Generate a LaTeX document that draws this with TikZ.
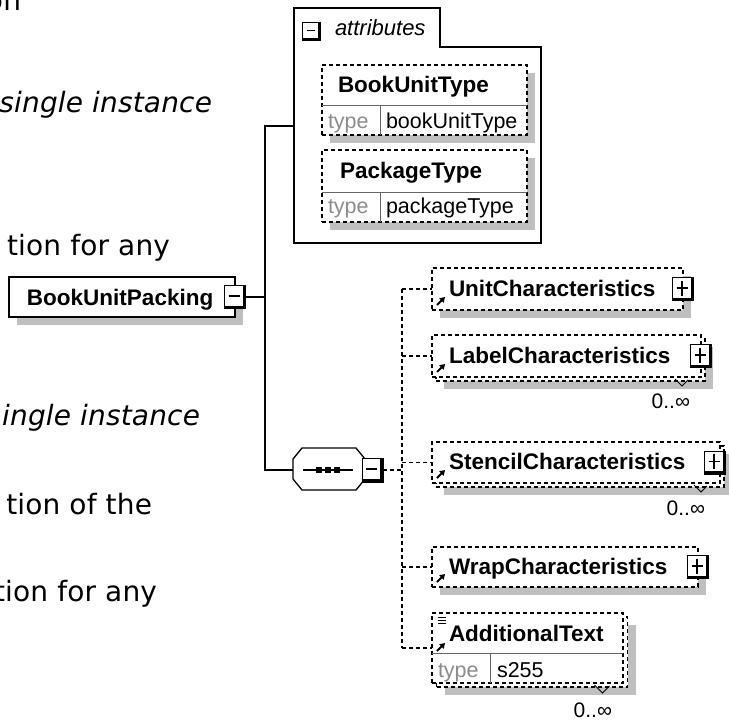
\documentclass[tikz,border=0pt]{standalone}
\usepackage{fontspec}
\setmainfont{DejaVu Sans}
\newfontfamily\prosefont{DejaVu Sans}[LetterSpace=0.6]
\newfontfamily\xsdfont{Liberation Sans}
\usetikzlibrary{shadows,arrows.meta}

\begin{document}
\begin{tikzpicture}[x=1pt,y=-1pt,
  every node/.style={inner sep=0pt,outer sep=0pt},
  prose/.style={font=\prosefont\fontsize{28}{34}\selectfont,anchor=base east},
  ename/.style={font=\xsdfont\bfseries\fontsize{22.5}{26}\selectfont,anchor=base west},
  aname/.style={font=\xsdfont\fontsize{21.5}{26}\selectfont,anchor=base west},
  tname/.style={aname,text=black!45},
  occurs/.style={font=\xsdfont\fontsize{21}{24}\selectfont,anchor=base east},
  wire/.style={line width=1.3pt},
  optwire/.style={wire,dash pattern=on 4pt off 3pt},
  cell/.style={line width=1pt,draw=black!60},
  shade/.style={drop shadow={shadow xshift=8pt,shadow yshift=-8pt,opacity=1,fill=black!25}},
  elbox/.style={draw,fill=white,line width=1.3pt,dash pattern=on 4pt off 3pt},
  refmark/.style={line width=1.8pt,-{Triangle[length=5pt,width=6pt]}},
  minusbtn/.style={draw,fill=white,line width=1pt,minimum width=21pt,minimum height=23pt,
    path picture={
      \draw[line width=2.8pt] ([xshift=-1.4pt]path picture bounding box.north east)
        -- ([xshift=-1.4pt,yshift=1.4pt]path picture bounding box.south east)
        -- ([yshift=1.4pt]path picture bounding box.south west);
      \draw[line width=1.2pt] ([xshift=4pt,yshift=1pt]path picture bounding box.west)
        -- ([xshift=-6pt,yshift=1pt]path picture bounding box.east);}},
  plusbtn/.style={draw,fill=white,line width=1pt,minimum width=21pt,minimum height=23pt,
    path picture={
      \draw[line width=2.8pt] ([xshift=-1.4pt]path picture bounding box.north east)
        -- ([xshift=-1.4pt,yshift=1.4pt]path picture bounding box.south east)
        -- ([yshift=1.4pt]path picture bounding box.south west);
      \draw[line width=1.2pt] ([xshift=4pt,yshift=1pt]path picture bounding box.west)
        -- ([xshift=-6pt,yshift=1pt]path picture bounding box.east);
      \draw[line width=1.2pt] ([xshift=-1pt,yshift=-3pt]path picture bounding box.north)
        -- ([xshift=-1pt,yshift=5pt]path picture bounding box.south);}}
]
\useasboundingbox (0,0) rectangle (729,720);
\clip (0,0) rectangle (729,720);

% prose of the page, cut off at the left edge
\node[prose,anchor=base west] (p0) at (-14,10) {on};
\node[prose] (p1) at (212,112) {\itshape single instance};
\node[prose] (p2) at (170,255) {tion for any};
\node[prose] (p3) at (200,425) {\itshape ingle instance};
\node[prose] (p4) at (152,514) {tion of the};
\node[prose] (p5) at (157,601) {tion for any};

% root element
\node[draw,fill=white,line width=1.5pt,shade,minimum width=226pt,minimum height=40pt] (bup) at (122,297) {};
\node[ename] (bupT) at (27,305) {BookUnitPacking};
\node[minusbtn] (bupBtn) at (bup.east) {};

% attributes
\draw[wire] (294,243) -- (294,8) -- (440,8) -- (440,47) -- (541,47) -- (541,243) -- cycle;
\coordinate (attrIn) at (294,126);
\node[minusbtn,minimum width=18pt,minimum height=18pt] (attrBtn) at (311.5,31.5) {};
\node[aname,font=\xsdfont\itshape\fontsize{22}{26}\selectfont] (attrT) at (335,35) {attributes};

\node[elbox,shade,minimum width=205pt,minimum height=70pt] (butBox) at (424.5,100) {};
\draw[cell] (322,105) -- (527,105) (380,105) -- (380,135);
\node[ename] (butT) at (338,92) {BookUnitType};
\node[tname] (butK) at (328,128) {type};
\node[aname] (butV) at (386,128) {bookUnitType};

\node[elbox,shade,minimum width=205pt,minimum height=72pt] (ptBox) at (424.5,186) {};
\draw[cell] (322,192) -- (527,192) (380,192) -- (380,222);
\node[ename] (ptT) at (340,178) {PackageType};
\node[tname] (ptK) at (328,213) {type};
\node[aname] (ptV) at (386,213) {packageType};

% sequence compositor
\node[minimum width=72pt,minimum height=42pt] (seq) at (329,469) {};
\fill[black!25,shift={(8,8)}] ([xshift=9pt]seq.north west) -- ([xshift=-9pt]seq.north east)
  -- ([yshift=-11pt]seq.north east) -- ([yshift=11pt]seq.south east) -- ([xshift=-9pt]seq.south east)
  -- ([xshift=9pt]seq.south west) -- ([yshift=11pt]seq.south west) -- ([yshift=-11pt]seq.north west) -- cycle;
\draw[wire,fill=white] ([xshift=9pt]seq.north west) -- ([xshift=-9pt]seq.north east)
  -- ([yshift=-11pt]seq.north east) -- ([yshift=11pt]seq.south east) -- ([xshift=-9pt]seq.south east)
  -- ([xshift=9pt]seq.south west) -- ([yshift=11pt]seq.south west) -- ([yshift=-11pt]seq.north west) -- cycle;
\draw[wire] (303,470) -- (353,470);
\foreach \sx in {319,328,337} \fill (\sx-2.75,467.25) rectangle +(5.5,5.5);
\node[minusbtn,minimum height=24pt,anchor=west] (seqBtn) at ([xshift=-3pt,yshift=-1pt]seq.east) {};

% child elements
\node[elbox,shade,minimum width=251pt,minimum height=42pt] (unit) at (557.5,289) {};
\node[ename] (unitT) at (449,296) {UnitCharacteristics};
\node[plusbtn] (unitBtn) at (unit.east) {};
\draw[refmark] ([shift={(5,-5)}]unit.south west) -- ++(8,-8);

\node[elbox,shade,minimum width=269pt,minimum height=42pt] (labelB) at (570.5,360) {};
\node[elbox,minimum width=269pt,minimum height=42pt] (label) at (566.5,356) {};
\node[ename] (labelT) at (449,363) {LabelCharacteristics};
\node[plusbtn] (labelBtn) at (label.east) {};
\draw[refmark] ([shift={(5,-5)}]label.south west) -- ++(8,-8);
\draw[line width=1pt] ([shift={(-30,-2)}]labelB.south east) -- ++(7,7) -- ++(6,-6);
\node[occurs] (labelN) at (690,408) {0..∞};

\node[elbox,shade,minimum width=288pt,minimum height=41pt] (stencilB) at (580,466.5) {};
\node[elbox,minimum width=288pt,minimum height=41pt] (stencil) at (576,462.5) {};
\node[ename] (stencilT) at (449,469) {StencilCharacteristics};
\node[plusbtn] (stencilBtn) at ([xshift=-5pt]stencil.east) {};
\draw[refmark] ([shift={(5,-5)}]stencil.south west) -- ++(8,-8);
\draw[line width=1pt] ([shift={(-30,-2)}]stencilB.south east) -- ++(7,7) -- ++(6,-6);
\node[occurs] (stencilN) at (705,515) {0..∞};

\node[elbox,shade,minimum width=266pt,minimum height=40pt] (wrap) at (565,567) {};
\node[ename] (wrapT) at (449,574) {WrapCharacteristics};
\node[plusbtn] (wrapBtn) at (wrap.east) {};
\draw[refmark] ([shift={(5,-5)}]wrap.south west) -- ++(8,-8);

\node[elbox,shade,minimum width=191pt,minimum height=70pt] (addlB) at (532,652) {};
\node[elbox,minimum width=191pt,minimum height=70pt] (addl) at (527.5,648) {};
\draw[cell] (432,653) -- (623,653) (490,653) -- (490,683);
\foreach \ly in {4,7,10} \draw[line width=1pt] ([shift={(6,\ly)}]addl.north west) -- ++(8,0);
\node[ename] (addlT) at (449,641) {AdditionalText};
\node[tname] (addlK) at (438,677) {type};
\node[aname] (addlV) at (497,677) {s255};
\draw[refmark] ([shift={(5,3)}]addl.west) -- ++(8,-8);
\draw[line width=1pt] ([shift={(-33,-2)}]addlB.south east) -- ++(8,8) -- ++(7,-7);
\node[occurs] (addlN) at (612,717) {0..∞};

% connectors
\coordinate (jn) at (265,126);
\coordinate (js) at (265,470);
\coordinate (dv) at (402,0);
\draw[wire] (bupBtn.east) -- (bupBtn.east -| jn);
\draw[wire] (attrIn) -- (jn) -- (js) -- (seq.west |- js);
\draw[optwire] (seqBtn.east) -- (seqBtn.east -| dv);
\draw[optwire] (unit.west -| dv) -- (addl.west -| dv);
\draw[optwire] (unit.west -| dv) -- (unit.west);
\draw[optwire] (label.west -| dv) -- (label.west);
\draw[optwire] (stencil.west -| dv) -- (stencil.west);
\draw[optwire] (wrap.west -| dv) -- (wrap.west);
\draw[optwire] (addl.west -| dv) -- (addl.west);
\end{tikzpicture}
\end{document}
